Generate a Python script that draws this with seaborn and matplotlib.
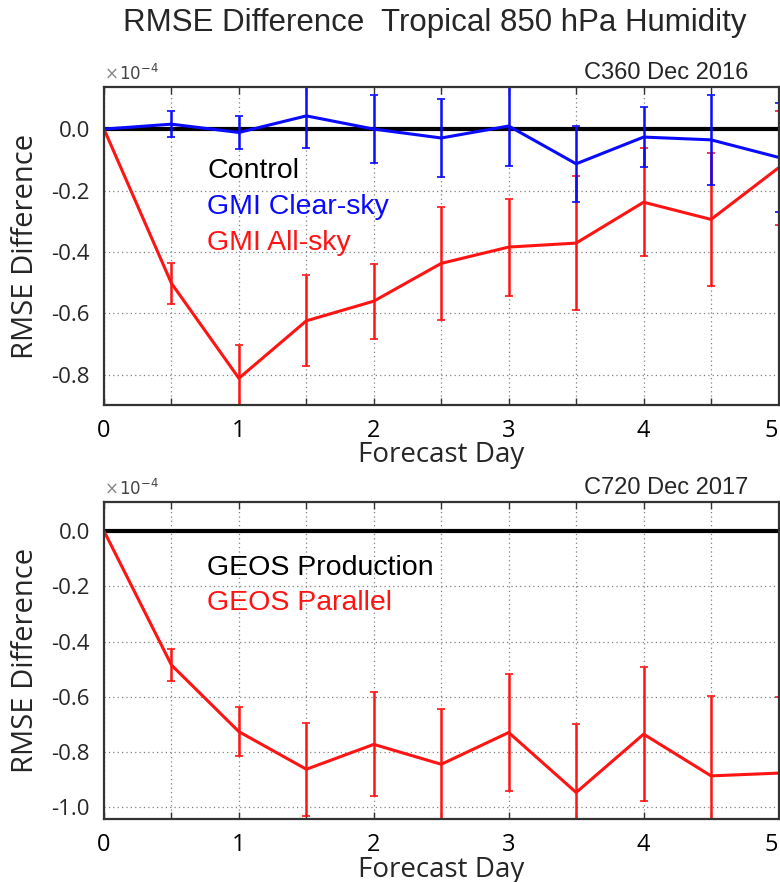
import numpy as np
import pandas as pd
import matplotlib
matplotlib.use("Agg")
import matplotlib.pyplot as plt
import seaborn as sns

# Forecast lead times (days)
days = [0.0, 0.5, 1.0, 1.5, 2.0, 2.5, 3.0, 3.5, 4.0, 4.5, 5.0]

# C360 Dec 2016 experiment (units of 1e-4)
control = [0.0] * 11
clear_sky = [0.0, 0.016, -0.011, 0.043, 0.000, -0.029, 0.010, -0.113, -0.026, -0.035, -0.092]
clear_sky_err = [0.0, 0.042, 0.053, 0.106, 0.110, 0.127, 0.131, 0.123, 0.099, 0.147, 0.177]
all_sky = [0.0, -0.502, -0.811, -0.624, -0.560, -0.437, -0.384, -0.371, -0.238, -0.294, -0.126]
all_sky_err = [0.0, 0.066, 0.109, 0.148, 0.122, 0.183, 0.158, 0.218, 0.175, 0.216, 0.186]

# C720 Dec 2017 experiment (units of 1e-4)
production = [0.0] * 11
parallel = [0.0, -0.485, -0.726, -0.862, -0.772, -0.844, -0.729, -0.946, -0.735, -0.886, -0.876]
parallel_err = [0.0, 0.057, 0.088, 0.168, 0.188, 0.200, 0.212, 0.248, 0.243, 0.290, 0.277]

top_title = "C360 Dec 2016"
bottom_title = "C720 Dec 2017"
top_names = ["Control", "GMI Clear-sky", "GMI All-sky"]
bottom_names = ["GEOS Production", "GEOS Parallel"]
yticks_top = [0.0, -0.2, -0.4, -0.6, -0.8]
yticks_bottom = [0.0, -0.2, -0.4, -0.6, -0.8, -1.0]

sns.set_theme(style="white")
plt.rcParams["font.family"] = ["Open Sans", "DejaVu Sans"]
plt.rcParams["axes.unicode_minus"] = False

BLUE = "#0a0aff"
RED = "#ff1414"
ARIAL = ["Liberation Sans", "DejaVu Sans"]

fig = plt.figure(figsize=(7.8, 8.82), dpi=100)
ax1 = fig.add_axes([104 / 780, 1 - 405 / 882, 674.5 / 780, 318 / 882])
ax2 = fig.add_axes([104 / 780, 1 - 819 / 882, 674.5 / 780, 317 / 882])


def style_axes(ax, ylim, yticks, label):
    xt = np.arange(0, 5.01, 0.5)
    ax.set_xlim(0, 5)
    ax.set_ylim(*ylim)
    ax.set_xticks(xt)
    ax.set_xticklabels([("%d" % t) if float(t).is_integer() else "" for t in xt])
    ax.set_yticks(yticks)
    ax.set_yticklabels(["%.1f" % v for v in yticks])
    ax.grid(True, linestyle=(0, (1, 2.5)), color="#808080", linewidth=0.9)
    ax.tick_params(axis="x", direction="in", length=5, width=1, top=True, bottom=True,
                   labelsize=17, pad=10, colors="#333333", labelcolor="black")
    ax.tick_params(axis="y", direction="in", length=0, labelsize=16, pad=10)
    ax.get_xticklabels()[-1].set_horizontalalignment("right")
    for s in ax.spines.values():
        s.set_color("#333333")
        s.set_linewidth(1.6)
    ax.set_xlabel("Forecast Day", fontsize=20, labelpad=-1)
    ax.set_ylabel("RMSE Difference", fontsize=21, labelpad=8)
    ax.text(0.0, 1.018, r"$\times$", transform=ax.transAxes, fontsize=12, color="#888888",
            ha="left", va="bottom", family=ARIAL)
    ax.text(0.022, 1.013, r"$10^{-4}$", transform=ax.transAxes, fontsize=12, color="#444444",
            ha="left", va="bottom", family=ARIAL)
    ax.text(0.955, 1.01, label, transform=ax.transAxes, fontsize=17, ha="right",
            va="bottom", family=ARIAL)


# --- top panel ---
df_top = pd.DataFrame({
    "day": days * 3,
    "value": control + all_sky + clear_sky,
    "run": [top_names[0]] * 11 + [top_names[2]] * 11 + [top_names[1]] * 11,
})
sns.lineplot(data=df_top, x="day", y="value", hue="run",
             palette={top_names[0]: "black", top_names[1]: BLUE, top_names[2]: RED},
             hue_order=[top_names[0], top_names[2], top_names[1]],
             linewidth=2.2, legend=False, ax=ax1)
ax1.lines[0].set_linewidth(3)
ax1.lines[0].set_zorder(2.1)
ax1.lines[1].set_zorder(2.2)
ax1.lines[2].set_zorder(2.4)
ax1.errorbar(days[1:], all_sky[1:], yerr=all_sky_err[1:], fmt="none", ecolor=RED,
             elinewidth=1.8, capsize=3, capthick=1.2, zorder=2.2)
ax1.errorbar(days[1:], clear_sky[1:], yerr=clear_sky_err[1:], fmt="none", ecolor=BLUE,
             elinewidth=1.8, capsize=3, capthick=1.2, zorder=2.4)
style_axes(ax1, (-0.898, 0.137), yticks_top, top_title)
for i, (name, col) in enumerate(zip(top_names, ["black", BLUE, RED])):
    ax1.text(0.765, -0.135 - 0.118 * i, name, color=col, fontsize=20.5, family=ARIAL,
             ha="left", va="center")

# --- bottom panel ---
df_bot = pd.DataFrame({
    "day": days * 2,
    "value": production + parallel,
    "run": [bottom_names[0]] * 11 + [bottom_names[1]] * 11,
})
sns.lineplot(data=df_bot, x="day", y="value", hue="run",
             palette={bottom_names[0]: "black", bottom_names[1]: RED},
             linewidth=2.2, legend=False, ax=ax2)
ax2.lines[0].set_linewidth(3)
ax2.errorbar(days[1:], parallel[1:], yerr=parallel_err[1:], fmt="none", ecolor=RED,
             elinewidth=1.8, capsize=3, capthick=1.2, zorder=2.2)
style_axes(ax2, (-1.042, 0.105), yticks_bottom, bottom_title)
for i, (name, col) in enumerate(zip(bottom_names, ["black", RED])):
    ax2.text(0.765, -0.135 - 0.127 * i, name, color=col, fontsize=20.5, family=ARIAL,
             ha="left", va="center")

fig.text(0.557, 0.974, "RMSE Difference  Tropical 850 hPa Humidity", fontsize=22.5,
         family=ARIAL, ha="center", va="center")

fig.savefig("out.png", dpi=100)
